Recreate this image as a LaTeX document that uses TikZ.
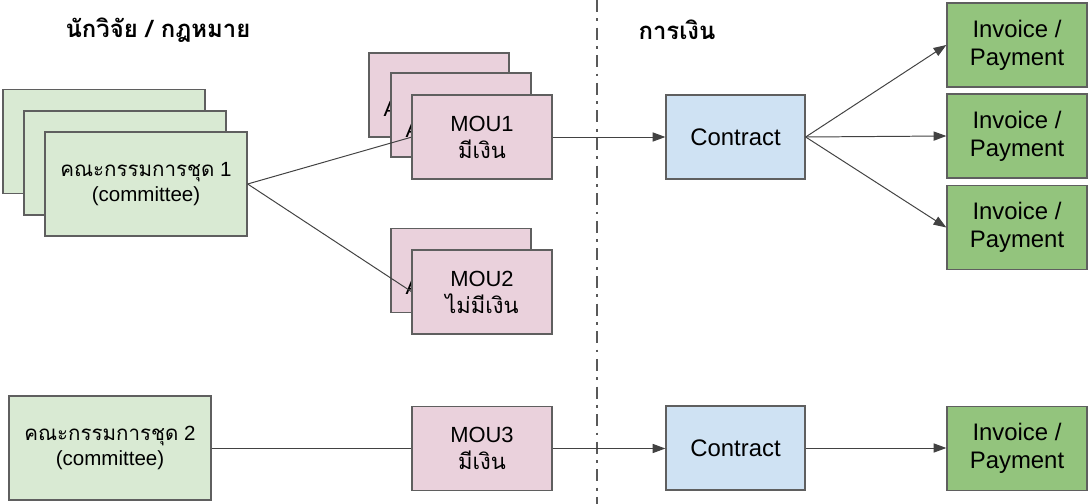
\documentclass[tikz,border=0pt]{standalone}
\usepackage{fontspec}
\setmainfont{Liberation Sans}
\newfontfamily\thai[Script=Thai]{Loma}
\usetikzlibrary{arrows.meta,calc}
\definecolor{Ink}{HTML}{000000}
\definecolor{Edge}{HTML}{5F5F5F}
\definecolor{Wire}{HTML}{424242}
\definecolor{Divider}{HTML}{595959}
\definecolor{GroupBg}{HTML}{D9EAD3}
\definecolor{MouBg}{HTML}{EAD1DC}
\definecolor{ContractBg}{HTML}{CFE2F3}
\definecolor{PayBg}{HTML}{93C47D}
\tikzset{
  base box/.style={draw=Edge,line width=0.9pt,align=center,inner sep=0pt,text=Ink},
  group box/.style={base box,fill=GroupBg,minimum width=5.05cm,minimum height=2.6cm,font=\fontsize{14.6}{17.2}\selectfont},
  mou box/.style={base box,fill=MouBg,minimum width=3.5cm,minimum height=2.1cm,font=\fontsize{15.6}{19.2}\selectfont},
  contract box/.style={base box,fill=ContractBg,minimum width=3.475cm,minimum height=2.1cm,font=\fontsize{17}{20}\selectfont},
  pay box/.style={base box,fill=PayBg,minimum width=3.5cm,minimum height=2.1cm,font=\fontsize{17}{20}\selectfont},
  side title/.style={text=Ink,inner sep=0pt,font=\thai\bfseries\fontsize{17}{17}\selectfont},
  peek letter/.style={text=Ink,inner sep=0pt,anchor=west,font=\fontsize{15.6}{15.6}\selectfont},
  link/.style={draw=Wire,line width=0.7pt},
  flow/.style={link,-{Triangle[length=3.2mm,width=2.3mm]}},
  divider/.style={draw=Divider,line width=1.4pt,dash pattern=on 3mm off 1.6mm on 0.7mm off 1.6mm}
}

\begin{document}
\begin{tikzpicture}[x=0.025cm,y=-0.025cm,line cap=butt,line join=miter]
  \useasboundingbox (0,0) rectangle (1089,504);

  % column titles and divider
  \node[side title] (titleLegal) at (158,30) {นักวิจัย / กฎหมาย};
  \node[side title] (titleFinance) at (677,30) {การเงิน};
  \coordinate (divTop) at (597,0);
  \coordinate (divBot) at (597,504);
  \draw[divider] (divTop) -- (divBot);

  % committees
  \node[group box] (groupOneA) at (104,141.5) {};
  \node[group box] (groupOneB) at (125,163) {};
  \node[group box] (groupOne) at (146,184) {{\thai คณะกรรมการชุด} 1\\(committee)};
  \node[group box] (groupTwo) at (110,448) {{\thai คณะกรรมการชุด} 2\\(committee)};

  % MOU stacks
  \node[mou box] (mouOneA) at (439,95) {};
  \node[peek letter] (mouOneALetter) at ($(mouOneA.west)+(15,14)$) {A};
  \node[mou box] (mouOneB) at (461,115) {};
  \node[peek letter] (mouOneBLetter) at ($(mouOneB.west)+(15,15)$) {A};
  \node[mou box] (mouTwoA) at (461,270.5) {};
  \node[peek letter] (mouTwoALetter) at ($(mouTwoA.west)+(15,16)$) {A};

  \draw[link] (groupOne.east) -- (482-70,137);
  \draw[link] (groupOne.east) -- (482-70,292);

  \node[mou box] (mouOne) at (482,137) {MOU1\\{\thai มีเงิน}};
  \node[mou box] (mouTwo) at (482,292) {MOU2\\{\thai ไม่มีเงิน}};
  \node[mou box] (mouThree) at (482,448.5) {MOU3\\{\thai มีเงิน}};

  % finance side
  \node[contract box] (contractOne) at (735.5,137) {Contract};
  \node[contract box] (contractTwo) at (735.5,448) {Contract};
  \node[pay box] (payOne) at (1017,45) {Invoice /\\Payment};
  \node[pay box] (payTwo) at (1017,136) {Invoice /\\Payment};
  \node[pay box] (payThree) at (1017,227.5) {Invoice /\\Payment};
  \node[pay box] (payFour) at (1017,448.5) {Invoice /\\Payment};

  % connectors
  \draw[link] (groupTwo.east) -- (groupTwo.east -| mouThree.west);
  \draw[flow] (mouOne.east) -- (contractOne.west);
  \draw[flow] (contractOne.east) -- (payOne.west);
  \draw[flow] (contractOne.east) -- (payTwo.west);
  \draw[flow] (contractOne.east) -- (payThree.west);
  \draw[flow] (mouThree.east) -- (mouThree.east -| contractTwo.west);
  \draw[flow] (contractTwo.east) -- (contractTwo.east -| payFour.west);
\end{tikzpicture}
\end{document}
